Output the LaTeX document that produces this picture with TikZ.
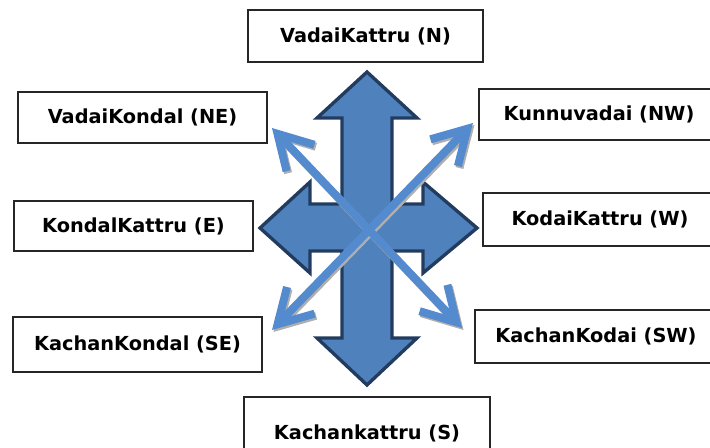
\documentclass[tikz,border=0pt]{standalone}
\usepackage{fontspec}
\setmainfont{DejaVu Sans}
\usetikzlibrary{arrows.meta,positioning}
\definecolor{crossfill}{RGB}{79,129,189}
\definecolor{crossline}{RGB}{34,60,96}
\definecolor{diagblue}{RGB}{84,138,206}
\definecolor{shadowgray}{RGB}{175,175,175}
\tikzset{
  box/.style={draw=black!85, line width=0.55mm, fill=white, align=center, inner sep=0pt, font=\bfseries\fontsize{16.5}{19}\selectfont},
  windcross/.style={draw=crossline, fill=crossfill, line width=1mm, line join=miter},
  diag/.style={{Straight Barb[length=10mm,width=11.5mm]}-{Straight Barb[length=10mm,width=11.5mm]}, draw=diagblue, line width=2.4mm},
  diagshadow/.style={diag, draw=shadowgray}
}

\begin{document}
\begin{tikzpicture}[x=0.3mm, y=-0.3mm]
\useasboundingbox (0,0) rectangle (710,448);
\clip (0,0) rectangle (710,448);
% big four-way arrow
\draw[windcross] (367,72) -- (417,118) -- (392,118) -- (392,204) -- (423,204) -- (423,182)
  -- (477,228) -- (423,273) -- (423,251) -- (392,251) -- (392,338) -- (417,338)
  -- (367,385) -- (317,338) -- (342,338) -- (342,251) -- (310,251) -- (310,273)
  -- (260,228) -- (310,182) -- (310,204) -- (342,204) -- (342,118) -- (317,118) -- cycle;
% diagonal arrows
\coordinate (tipnw) at (272,128);
\coordinate (tipse) at (462,328);
\coordinate (tipne) at (473,123);
\coordinate (tipsw) at (272,330);
\begin{scope}[transform canvas={shift={(0.45mm,-0.6mm)}}]
\draw[diagshadow] (tipne) -- (tipsw);
\draw[diagshadow] (tipnw) -- (tipse);
\end{scope}
\draw[diag] (tipne) -- (tipsw);
\draw[diag] (tipnw) -- (tipse);
% wind names
\node[box, minimum width=70.5mm, minimum height=15.6mm] (vadai) at (365.5,36) {VadaiKattru (N)};
\node[box, minimum width=74.7mm, minimum height=15.3mm] (vadaikondal) at (142.5,117.5) {VadaiKondal (NE)};
\node[box, minimum width=71.7mm, minimum height=15mm] (kondal) at (133.5,226) {KondalKattru (E)};
\node[box, minimum width=74.7mm, minimum height=16.5mm] (kachankondal) at (137.5,344.5) {KachanKondal (SE)};
\node[box, minimum width=72mm, minimum height=15.3mm] (kunnu) at (599,114.5) {Kunnuvadai (NW)};
\node[box, minimum width=70.2mm, minimum height=15.9mm] (kodai) at (600,219.5) {KodaiKattru (W)};
\node[box, minimum width=72.6mm, minimum height=15.9mm] (kachankodai) at (596,336.5) {KachanKodai (SW)};
\node[box, minimum width=73.8mm, minimum height=21.6mm] (kachan) at (367,433) {Kachankattru (S)};
\end{tikzpicture}
\end{document}
